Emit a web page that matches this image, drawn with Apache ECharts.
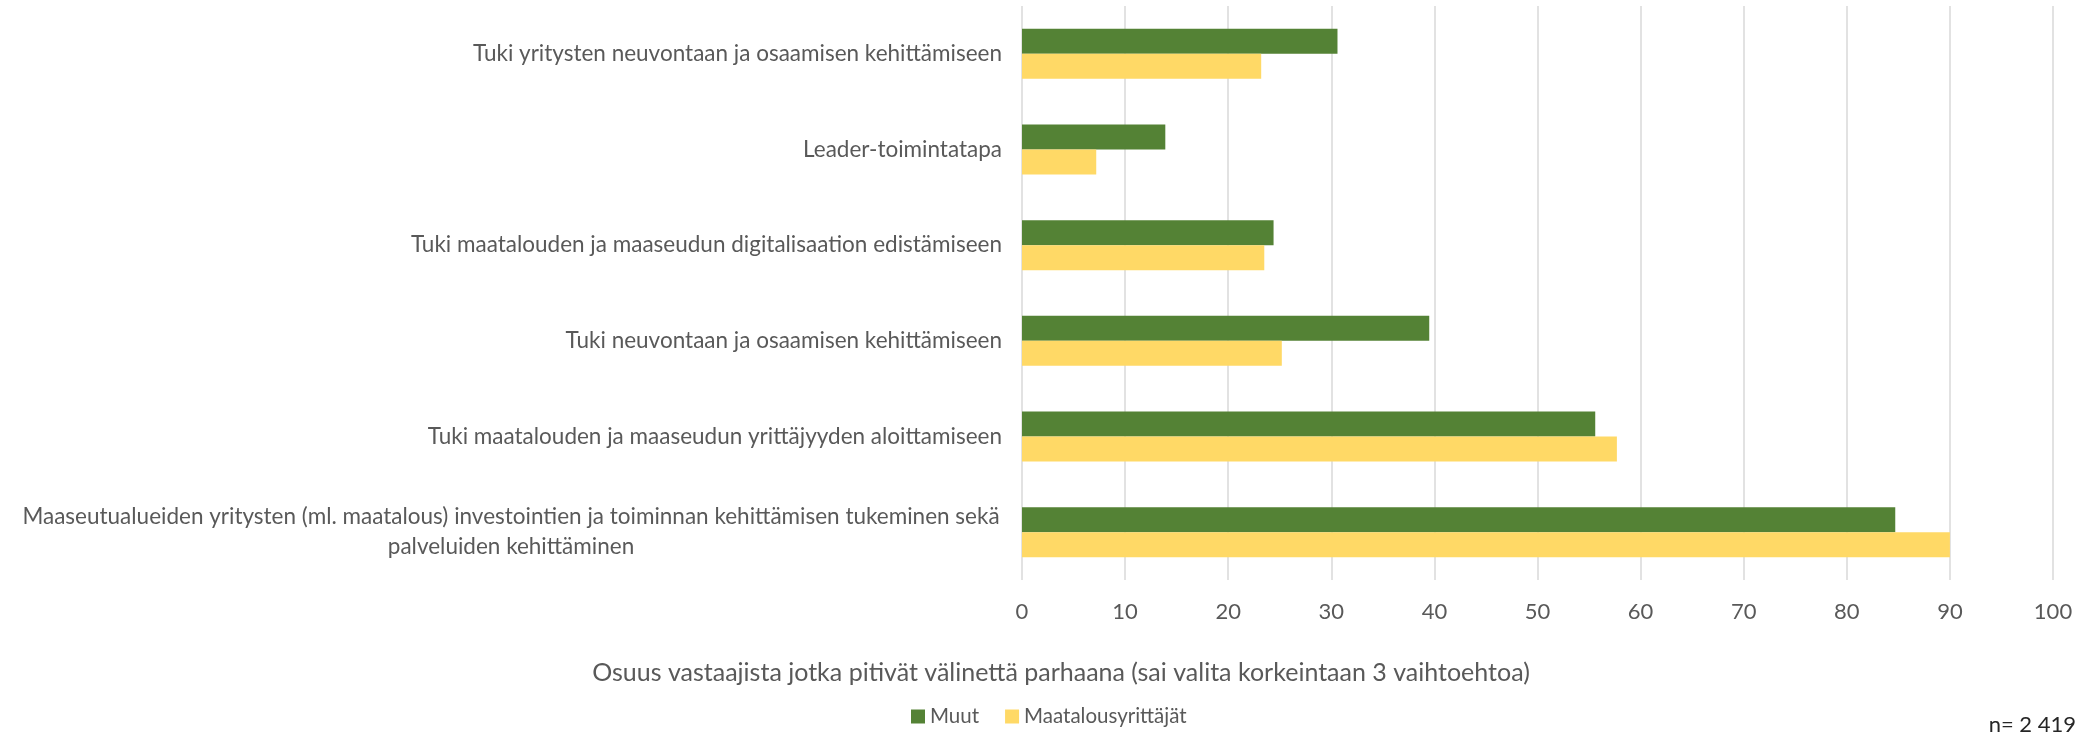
<!DOCTYPE html>
<html>
<head>
<meta charset="utf-8">
<script src="https://cdn.jsdelivr.net/npm/echarts@6/dist/echarts.min.js"></script>
<style>
html, body { margin: 0; padding: 0; background: #fff; }
#main { width: 2090px; height: 744px; }
</style>
</head>
<body>
<div id="main"></div>
<script>
// categories, top to bottom
var categories = [
	'Tuki yritysten neuvontaan ja osaamisen kehittämiseen',
	'Leader-toimintatapa',
	'Tuki maatalouden ja maaseudun digitalisaation edistämiseen',
	'Tuki neuvontaan ja osaamisen kehittämiseen',
	'Tuki maatalouden ja maaseudun yrittäjyyden aloittamiseen',
	'Maaseutualueiden yritysten (ml. maatalous) investointien ja toiminnan kehittämisen tukeminen sekä\npalveluiden kehittäminen'
];
var muut = [30.6, 13.9, 24.4, 39.5, 55.6, 84.7];
var maatalousyrittajat = [23.2, 7.2, 23.5, 25.2, 57.7, 90.0];
var xTicks = [0, 100, 10];

var chartDom = document.getElementById('main');
var myChart = echarts.init(chartDom);
var font = 'Lato';
var textColor = '#595959';

var option = {
	textStyle: { fontFamily: font },
	animation: false,
	grid: {
		left: 1022,
		right: 37,
		top: 6,
		bottom: 164
	},
	legend: {
		data: ['Muut', 'Maatalousyrittäjät'],
		bottom: 12,
		left: 906,
		itemWidth: 14,
		itemHeight: 14,
		itemGap: 26,
		icon: 'rect',
		textStyle: { color: textColor, fontSize: 20.5, fontFamily: font }
	},
	graphic: [{
		type: 'text',
		right: 14,
		bottom: 8,
		style: { text: 'n= 2 419', fill: '#262626', fontSize: 22, fontFamily: font }
	}, {
		type: 'text',
		x: 1061,
		y: 673,
		style: {
			text: 'Osuus vastaajista jotka pitivät välinettä parhaana (sai valita korkeintaan 3 vaihtoehtoa)',
			fill: textColor, fontSize: 25, fontFamily: font,
			align: 'center', verticalAlign: 'middle'
		}
	}],
	xAxis: {
		type: 'value',
		min: xTicks[0],
		max: xTicks[1],
		interval: xTicks[2],
		axisLine: { show: false },
		axisTick: { show: false },
		axisLabel: { color: textColor, fontSize: 22, margin: 21, fontFamily: font },
		splitLine: { lineStyle: { color: '#d9d9d9', width: 1.5 } }
	},
	yAxis: {
		type: 'category',
		inverse: true,
		data: categories,
		axisLine: { show: false },
		axisTick: { show: false },
		axisLabel: {
			color: textColor,
			fontSize: 22.5,
			margin: 20,
			lineHeight: 30,
			fontFamily: font,
			formatter: function (v) {
				if (v.indexOf('\n') < 0) return v;
				return v.split('\n').map(function (l) { return '{c|' + l + '}'; }).join('\n');
			},
			rich: {
				c: { width: 982, align: 'center', fontSize: 22.5, lineHeight: 30, color: textColor, fontFamily: font }
			}
		}
	},
	series: [{
			name: 'Muut',
			type: 'bar',
			data: muut,
			barWidth: 25,
			barGap: '0%',
			itemStyle: { color: '#548235' }
		},
		{
			name: 'Maatalousyrittäjät',
			type: 'bar',
			data: maatalousyrittajat,
			barWidth: 25,
			itemStyle: { color: '#ffd966' }
		}
	]
};
option && myChart.setOption(option);
</script>
</body>
</html>
